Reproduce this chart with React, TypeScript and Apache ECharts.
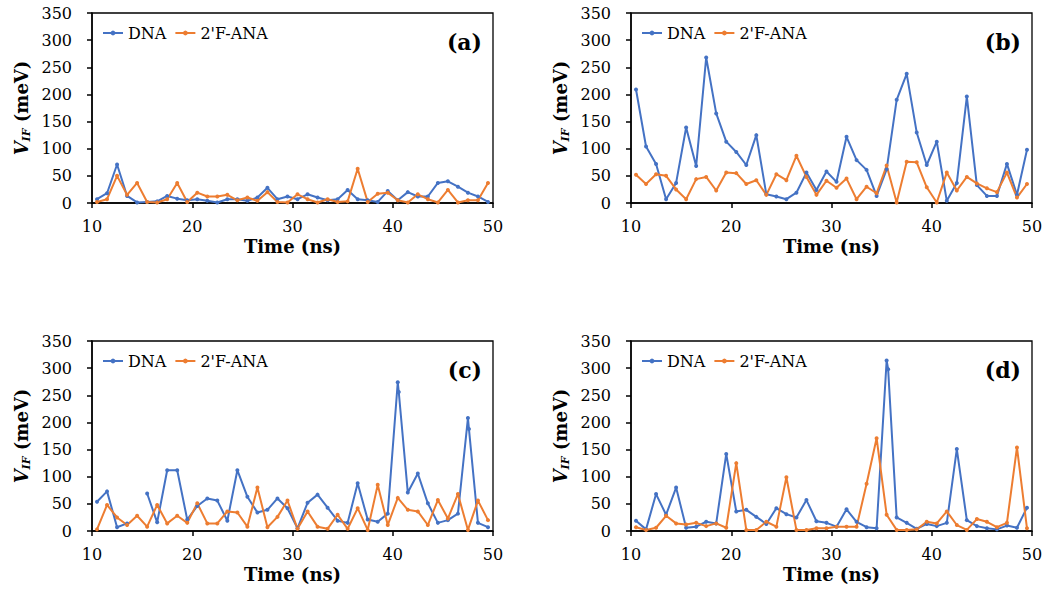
import React, { useEffect, useRef } from "react";
import * as echarts from "echarts";

const times = [10.5, 11.5, 12.5, 13.5, 14.5, 15.5, 16.5, 17.5, 18.5, 19.5, 20.5, 21.5, 22.5, 23.5, 24.5, 25.5, 26.5, 27.5, 28.5, 29.5, 30.5, 31.5, 32.5, 33.5, 34.5, 35.5, 36.5, 37.5, 38.5, 39.5, 40.5, 41.5, 42.5, 43.5, 44.5, 45.5, 46.5, 47.5, 48.5, 49.5];

const xTicks = { min: 10, max: 50, step: 10 };
const yTicks = { min: 0, max: 350, step: 50 };

const aDNA = [7, 18, 71, 13, 1, 2, 3, 13, 8, 5, 7, 4, 1, 7, 7, 4, 10, 28, 7, 12, 7, 16, 10, 5, 7, 24, 7, 5, 2, 22, 5, 20, 12, 12, 37, 40, 30, 19, 12, 2];
const aANA = [2, 7, 50, 15, 37, 2, 1, 7, 37, 2, 19, 12, 12, 15, 5, 10, 4, 20, 2, 1, 16, 7, 1, 7, 2, 3, 63, 2, 17, 19, 5, 1, 16, 7, 1, 24, 1, 5, 5, 37];

const bDNA = [209, 104, 72, 7, 37, 139, 68, 268, 165, 113, 94, 70, 125, 16, 12, 7, 19, 56, 24, 58, 39, 122, 79, 61, 13, 62, 190, 238, 130, 70, 113, 4, 37, 196, 33, 13, 13, 72, 15, 98];
const bANA = [52, 35, 53, 50, 25, 7, 44, 48, 23, 56, 55, 35, 42, 15, 53, 42, 87, 48, 15, 41, 28, 45, 7, 30, 18, 69, 1, 76, 75, 29, 1, 56, 23, 48, 36, 27, 20, 56, 10, 35];

const cDNA = [54, 73, 7, 14, null, 69, 16, 112, 112, 21, 46, 60, 56, 19, 112, 63, 34, 39, 60, 42, 5, 52, 67, 43, 19, 15, 88, 21, 17, 32, 274, 71, 106, 51, 15, 20, 32, 208, 15, 7];
const cANA = [3, 48, 25, 11, 28, 8, 48, 14, 28, 15, 51, 14, 14, 36, 34, 8, 80, 7, 26, 56, 4, 36, 8, 4, 30, 4, 42, 2, 85, 11, 61, 39, 36, 11, 57, 23, 68, 2, 56, 20];
const cDNAExtra = [[40.6, 256], [47.6, 188]];

const dDNA = [19, 3, 68, 30, 80, 6, 8, 17, 14, 142, 36, 39, 26, 13, 42, 31, 25, 57, 18, 15, 8, 40, 17, 7, 5, 314, 25, 15, 4, 13, 9, 15, 151, 20, 9, 5, 3, 10, 6, 43];
const dANA = [7, 2, 6, 28, 14, 12, 15, 9, 14, 6, 125, 2, 2, 17, 8, 99, 2, 2, 5, 5, 8, 8, 8, 87, 171, 30, 2, 2, 3, 17, 14, 36, 11, 2, 22, 17, 7, 15, 154, 5];
const dDNAExtra = [[35.65, 298]];

const seriesNames = ["DNA", "2'F-ANA"];
const panelLabels = ["(a)", "(b)", "(c)", "(d)"];

const BLUE = "#4472C4";
const ORANGE = "#ED7D31";
const SERIF = "DejaVu Serif";

const layout = [
  { left: 92, top: 13 },
  { left: 631, top: 13 },
  { left: 92, top: 341 },
  { left: 631, top: 341 },
];
const PW = 401;
const PH = 190;

function build(vals: (number | null)[], extra: number[][] = []) {
  const pts: any[] = times.map((t, i) => [t, vals[i] === null ? "-" : vals[i]]);
  extra.forEach((e) => pts.push([e[0], e[1]]));
  pts.sort((p, q) => p[0] - q[0]);
  return pts;
}

export default function App() {
  const ref = useRef<HTMLDivElement>(null);
  useEffect(() => {
    document.body.style.margin = "0";
    if (!ref.current) return;
    const chart = echarts.init(ref.current, undefined, { renderer: "svg" });
    const panels = [
      { dna: build(aDNA), ana: build(aANA) },
      { dna: build(bDNA), ana: build(bANA) },
      { dna: build(cDNA, cDNAExtra), ana: build(cANA) },
      { dna: build(dDNA, dDNAExtra), ana: build(dANA) },
    ];
    const grid = layout.map((l) => ({
      left: l.left,
      top: l.top,
      width: PW,
      height: PH,
      show: true,
      borderColor: "#000",
      borderWidth: 1.3,
      containLabel: false,
    }));
    const xAxis = layout.map((_, i) => ({
      type: "value",
      gridIndex: i,
      min: xTicks.min,
      max: xTicks.max,
      interval: xTicks.step,
      axisLine: { show: true, lineStyle: { color: "#000", width: 1.5 } },
      axisTick: { show: true, length: 5, lineStyle: { color: "#000", width: 1.5 } },
      axisLabel: { color: "#000", fontFamily: SERIF, fontSize: 16, margin: 15 },
      splitLine: { show: false },
      name: "Time (ns)",
      nameLocation: "middle",
      nameGap: 34,
      nameTextStyle: { fontFamily: SERIF, fontWeight: "bold", fontSize: 18, color: "#000" },
    }));
    const richBase = { fontFamily: SERIF, fontWeight: "bold", color: "#000" };
    const yAxis = layout.map((_, i) => ({
      type: "value",
      gridIndex: i,
      min: yTicks.min,
      max: yTicks.max,
      interval: yTicks.step,
      axisLine: { show: true, lineStyle: { color: "#000", width: 1.5 } },
      axisTick: { show: true, length: 5, lineStyle: { color: "#000", width: 1.5 } },
      axisLabel: { color: "#000", fontFamily: SERIF, fontSize: 16, margin: 20 },
      splitLine: { show: false },
      name: "{v|V}{s|IF}{u| (meV)}",
      nameLocation: "middle",
      nameRotate: 90,
      nameGap: 60,
      nameTextStyle: {
        rich: {
          v: { ...richBase, fontStyle: "italic", fontSize: 18, lineHeight: 22 },
          s: { ...richBase, fontStyle: "italic", fontSize: 11, lineHeight: 12, verticalAlign: "bottom" },
          u: { ...richBase, fontSize: 18, lineHeight: 22 },
        },
      },
    }));
    const series: any[] = [];
    panels.forEach((p, i) => {
      series.push({
        type: "line",
        name: seriesNames[0],
        xAxisIndex: i,
        yAxisIndex: i,
        data: p.dna,
        color: BLUE,
        lineStyle: { width: 2, color: BLUE },
        itemStyle: { color: BLUE },
        symbol: "circle",
        symbolSize: 4,
        showSymbol: true,
        connectNulls: false,
      });
      series.push({
        type: "line",
        name: seriesNames[1],
        xAxisIndex: i,
        yAxisIndex: i,
        data: p.ana,
        color: ORANGE,
        lineStyle: { width: 2, color: ORANGE },
        itemStyle: { color: ORANGE },
        symbol: "circle",
        symbolSize: 4,
        showSymbol: true,
        connectNulls: false,
      });
    });
    const legend = layout.map((l) => ({
      left: l.left + 5,
      top: l.top + 7,
      itemWidth: 20,
      itemHeight: 6,
      itemGap: 8,
      textStyle: { fontFamily: SERIF, fontSize: 16, color: "#000" },
      data: seriesNames,
      selectedMode: false,
    }));
    const graphic = layout.map((l, i) => ({
      type: "text",
      x: l.left + PW - 11,
      y: l.top + 29,
      style: {
        text: panelLabels[i],
        fontFamily: SERIF,
        fontWeight: "bold",
        fontSize: 22,
        fill: "#000",
        align: "right",
        verticalAlign: "middle",
      },
    }));
    chart.setOption({
      animation: false,
      backgroundColor: "#fff",
      grid,
      xAxis,
      yAxis,
      legend,
      series,
      graphic,
    });
    return () => chart.dispose();
  }, []);
  return <div ref={ref} style={{ width: 1050, height: 592 }} />;
}
